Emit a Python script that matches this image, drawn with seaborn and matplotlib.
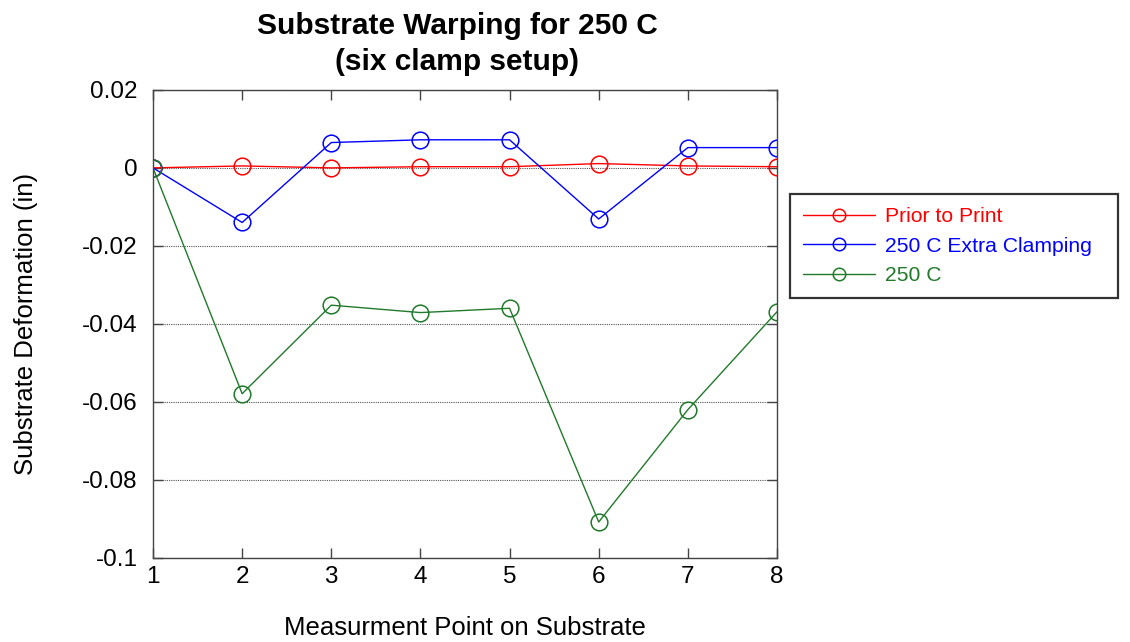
import matplotlib
matplotlib.use("Agg")
import matplotlib.pyplot as plt
import seaborn as sns
import pandas as pd

points = [1, 2, 3, 4, 5, 6, 7, 8]
prior_to_print = [0.0, 0.0005, 0.0, 0.0003, 0.0003, 0.0011, 0.0005, 0.0003]
extra_clamping = [0.0, -0.014, 0.0065, 0.0072, 0.0072, -0.0131, 0.0052, 0.0052]
c250 = [0.0, -0.0579, -0.0352, -0.0371, -0.0360, -0.0908, -0.0620, -0.0369]
series_names = ["Prior to Print", "250 C Extra Clamping", "250 C"]
series_colors = ["#ff0000", "#0000ff", "#217a2b"]
y_ticks = [0.02, 0, -0.02, -0.04, -0.06, -0.08, -0.1]
y_tick_labels = ["0.02", "0", "-0.02", "-0.04", "-0.06", "-0.08", "-0.1"]
x_tick_labels = ["1", "2", "3", "4", "5", "6", "7", "8"]

sns.set_theme(style="white")
plt.rcParams['font.family'] = ['Liberation Sans', 'DejaVu Sans']
plt.rcParams['axes.unicode_minus'] = False
plt.rcParams['text.color'] = 'black'
plt.rcParams['axes.labelcolor'] = 'black'
plt.rcParams['xtick.labelcolor'] = 'black'
plt.rcParams['ytick.labelcolor'] = 'black'

fig = plt.figure(figsize=(11.3, 6.42), dpi=100)
ax = fig.add_axes([0.1354, 0.131, 0.5522, 0.729])

for name, vals, col in zip(series_names, [prior_to_print, extra_clamping, c250], series_colors):
    df = pd.DataFrame({"x": points, "y": vals})
    sns.lineplot(data=df, x="x", y="y", ax=ax, color=col, marker="o", markersize=12,
                 markerfacecolor="none", markeredgecolor=col, markeredgewidth=1.1,
                 linewidth=1.0, label=name, legend=False)

ax.set_xlim(1, 8)
ax.set_ylim(-0.1, 0.02)
ax.set_xticks(points)
ax.set_xticklabels(x_tick_labels, fontsize=17.5)
ax.set_yticks(y_ticks)
ax.set_yticklabels(y_tick_labels, fontsize=17.5)
ax.yaxis.grid(True, linestyle=(0, (1, 1)), color="#555555", linewidth=0.8)
ax.xaxis.grid(False)
ax.tick_params(axis="both", direction="in", length=7, width=1, color="#444444",
               top=True, right=True, bottom=True, left=True)
ax.tick_params(axis="y", pad=11)
ax.tick_params(axis="x", pad=6)
for s in ax.spines.values():
    s.set_color("#444444")
    s.set_linewidth(1)
    s.set_visible(True)

ax.set_xlabel("Measurment Point on Substrate", fontsize=18.5, labelpad=20)
ax.set_ylabel("Substrate Deformation (in)", fontsize=18.5, labelpad=32)
ax.set_title("Substrate Warping for 250 C\n(six clamp setup)", fontsize=21.5,
             fontweight="bold", pad=14, linespacing=1.4, color="black", x=0.487)

handles, labels = ax.get_legend_handles_labels()
leg = fig.legend(handles, labels, loc="upper left",
                 bbox_to_anchor=(0.699, 0.536, 0.290, 0.162), mode="expand",
                 frameon=True, fancybox=False, edgecolor="black", fontsize=15.2,
                 markerscale=0.75, handlelength=3.4, borderpad=0.62, labelspacing=0.5,
                 handletextpad=0.5, borderaxespad=0)
leg.get_frame().set_linewidth(1.6)
for txt, col in zip(leg.get_texts(), series_colors):
    txt.set_color(col)

fig.savefig("out.png", dpi=100)
